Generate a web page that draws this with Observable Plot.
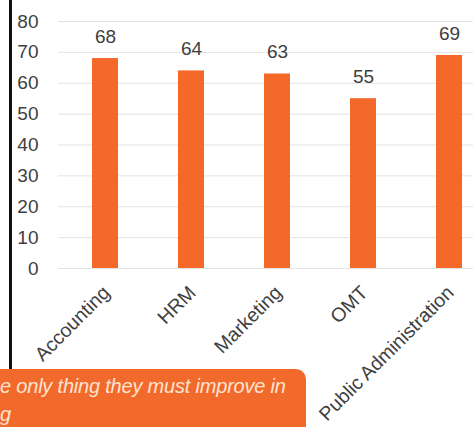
<!DOCTYPE html>
<html>
<head>
<meta charset="utf-8">
<script src="https://cdn.jsdelivr.net/npm/d3@7"></script>
<script src="https://cdn.jsdelivr.net/npm/@observablehq/plot@0.6"></script>
<style>
  html, body { margin: 0; padding: 0; width: 473px; height: 427px; overflow: hidden; background: #fff; position: relative; }
  #chart { position: absolute; left: 0; top: 0; }
  #chart svg { max-width: none; }
  #vline { position: absolute; left: 9px; top: 0; width: 3px; height: 369px; background: #111; }
  #callout { position: absolute; left: 0; top: 369px; width: 306px; height: 70px; background: #F26A2B; border-radius: 0 10px 0 0;
    color: #fde3d2; font-family: "Liberation Sans", Arial, sans-serif; font-style: italic; font-size: 20px; letter-spacing: -0.2px; line-height: 28px; padding: 3px 0 0 0; box-sizing: border-box; white-space: nowrap; }
</style>
</head>
<body>
<div id="chart"></div>
<div id="vline"></div>
<div id="callout">e only thing they must improve in<br>g</div>
<script>
const categories = ["Accounting", "HRM", "Marketing", "OMT", "Public Administration"];
const values = [68, 64, 63, 55, 69];
const yTicks = [0, 10, 20, 30, 40, 50, 60, 70, 80];

const data = categories.map((c, i) => ({category: c, value: values[i]}));

const chart = Plot.plot({
  width: 473,
  height: 427,
  marginLeft: 58,
  marginRight: 0,
  marginTop: 21,
  marginBottom: 159,
  style: {fontFamily: "'Liberation Sans', Arial, sans-serif", color: "#404040", background: "transparent"},
  x: {domain: categories, range: [61, 492], paddingInner: 0.7, paddingOuter: 0.35, label: null},
  y: {domain: [0, 80], ticks: yTicks, label: null},
  marks: [
    Plot.gridY(yTicks, {stroke: "#e3e3e3", strokeOpacity: 1, strokeWidth: 1}),
    Plot.barY(data, {x: "category", y: "value", fill: "#F4692A"}),
    Plot.text(data, {x: "category", y: "value", text: d => String(d.value), dy: -22, fontSize: 19, fill: "#404040"}),
    Plot.axisY({ticks: yTicks, tickSize: 0, tickPadding: 20, fontSize: 19, fill: "#404040"}),
    Plot.axisX({tickSize: 0, tickPadding: 21, dx: 1, tickRotate: -45, fontSize: 19.5, fill: "#404040"})
  ]
});
document.getElementById("chart").appendChild(chart);
</script>
</body>
</html>
